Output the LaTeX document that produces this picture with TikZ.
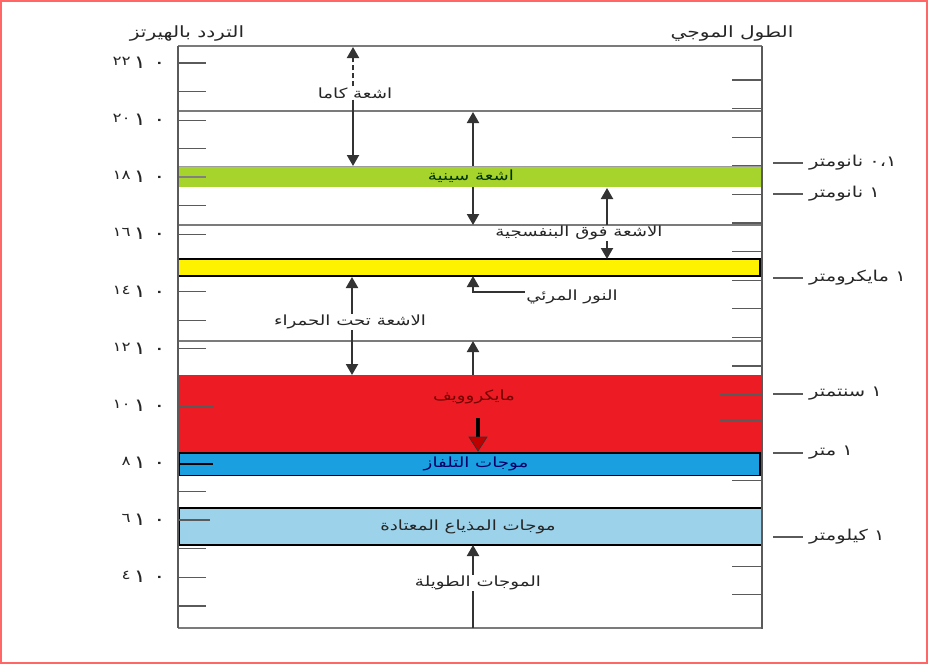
\documentclass[tikz,border=0pt]{standalone}
\usepackage{fontspec}
\newfontfamily\arabicfont[Script=Arabic,FakeStretch=1.3]{DejaVu Sans}
\TeXXeTstate=1
\usetikzlibrary{arrows.meta}
\definecolor{xgreen}{HTML}{A6D42C}
\definecolor{vyellow}{HTML}{FFF200}
\definecolor{mred}{HTML}{ED1C24}
\definecolor{tvblue}{HTML}{1AA0E0}
\definecolor{rlblue}{HTML}{9DD3EA}
\definecolor{linegray}{HTML}{5A5A5A}
\definecolor{arrgray}{HTML}{333333}
\tikzset{
  axisline/.style={draw=linegray, line width=2pt},
  hline/.style={draw=linegray!80, line width=1.1pt},
  tickline/.style={draw=linegray, line width=1.1pt},
  bandbox/.style={draw=black, line width=1.3pt},
  arr/.style={-{Triangle[length=11pt,width=12pt]}, line width=2pt, draw=arrgray, color=arrgray},
  lbl/.style={font=\arabicfont\fontsize{14}{16}\selectfont, inner sep=1pt, text=black!85},
  hdr/.style={font=\arabicfont\fontsize{15.5}{17}\selectfont, inner sep=1pt, text=black!85},
  wllbl/.style={font=\arabicfont\fontsize{15}{17}\selectfont, inner sep=1pt, text=black!85, anchor=west},
  numlbl/.style={font=\arabicfont\fontsize{18}{19}\selectfont, inner sep=0pt, anchor=east, text=black!85},
  wlline/.style={draw=linegray, line width=1.1pt},
}
\newcommand{\ar}[1]{\beginR #1\endR}
\newcommand{\expo}[1]{\raisebox{0.3ex}{\fontsize{13}{13}\selectfont #1}\hspace{3pt}١\hspace{7pt}٠}
\begin{document}
\begin{tikzpicture}[x=1pt,y=-1pt]
\useasboundingbox (0,0) rectangle (928,664);
\fill[white] (0,0) rectangle (928,664);
\draw[red!60, line width=1.2pt] (1,1) rectangle (927,663);

% ticks left
\foreach \k in {0,...,19} {
  \draw[tickline] (178,{63+28.58*\k}) -- (206,{63+28.58*\k});
}
% ticks right
\foreach \k in {0,...,18} {
  \draw[tickline] (732,{80+28.6*\k}) -- (762,{80+28.6*\k});
}
% horizontal lines
\foreach \yy in {46,111,225,341,628} {
  \draw[hline] (178,\yy) -- (762,\yy);
}
% bands
\fill[xgreen] (178,166) rectangle (762,187);
\draw[linegray!60, line width=0.6pt] (178,166) -- (762,166);
\filldraw[fill=vyellow, bandbox] (178,259) rectangle (760,276);
\fill[mred] (178,375) rectangle (762,452);
\filldraw[fill=tvblue, bandbox] (179,453) rectangle (760,475.5);
\filldraw[fill=rlblue, bandbox] (179,508) rectangle (762,545);

% ticks drawn over bands
\draw[draw=gray, line width=1.8pt] (178,177) -- (206,177);
\draw[draw=linegray, line width=2pt] (178,407) -- (214,407);
\draw[draw=black, line width=2.6pt] (180,464) -- (213,464);
\draw[draw=linegray, line width=2pt] (178,520) -- (210,520);
\draw[draw=linegray, line width=2pt] (720,395) -- (762,395);
\draw[draw=linegray, line width=2pt] (720,420) -- (762,420);

% axes
\draw[axisline] (178,46) -- (178,628);
\draw[axisline] (762,46) -- (762,629);

% headers
\node[hdr] (hfreq) at (187,34) {\ar{التردد بالهيرتز}};
\node[hdr] (hwave) at (732,34) {\ar{الطول الموجي}};

% frequency labels
\foreach \yy/\ex in {63/٢٢,120/٢٠,177/١٨,234/١٦,292/١٤,349/١٢,406/١٠,463/٨,520/٦,577/٤} {
  \node[numlbl] at (166,\yy) {\expo{\ex}};
}

% wavelength labels
\foreach \yy/\tx in {163/{\beginL ٠،١\endL{} نانومتر},194/{١ نانومتر},278/{١ مايكرومتر},394/{١ سنتمتر},453/{١ متر},537/{١ كيلومتر}} {
  \draw[wlline] (773,\yy) -- (803,\yy);
  \node[wllbl] at (808,\yy) {\ar{\tx}};
}

% gamma rays
\coordinate (gamtop) at (353,47);
\coordinate (gambot) at (353,166);
\node[lbl] (gam) at (355,93) {\ar{اشعة كاما}};
\draw[arr, dash pattern=on 5pt off 3pt] (gam.north -| gamtop) -- (gamtop);
\draw[arr] (gam.south -| gambot) -- (gambot);

% x-rays
\node[lbl, text=black!80!green] (xr) at (471,176) {\ar{اشعة سينية}};
\coordinate (xrtop) at (473,112);
\coordinate (xrband) at (473,166);
\coordinate (xrband2) at (473,187);
\coordinate (xrbot) at (473,225);
\draw[arr] (xrband) -- (xrtop);
\draw[arr] (xrband2) -- (xrbot);

% ultraviolet
\node[lbl] (uv) at (579,233) {\ar{الاشعة فوق البنفسجية}};
\coordinate (uvtop) at (607,188);
\coordinate (uvbot) at (607,259);
\draw[arr] (uv.north -| uvtop) -- (uvtop);
\draw[arr] (uv.south -| uvbot) -- (uvbot);

% visible
\node[lbl] (vis) at (572,297) {\ar{النور المرئي}};
\coordinate (viscorner) at (473,292);
\coordinate (vistop) at (473,276);
\draw[arr] (vis.west |- viscorner) -- (viscorner) -- (vistop);

% infrared
\node[lbl] (ir) at (350,322) {\ar{الاشعة تحت الحمراء}};
\coordinate (irtop) at (352,277);
\coordinate (irbot) at (352,375);
\draw[arr] (ir.north -| irtop) -- (irtop);
\draw[arr] (ir.south -| irbot) -- (irbot);

% microwave
\coordinate (mwtop) at (473,341);
\coordinate (mwband) at (473,375);
\draw[arr] (mwband) -- (mwtop);
\node[lbl, text=red!45!black] (mw) at (474,397) {\ar{مايكروويف}};
\coordinate (mwa) at (478,418);
\coordinate (mwb) at (478,438);
\coordinate (mwtip) at (478,451);
\draw[black, line width=3.5pt] (mwa) -- (mwb);
\filldraw[fill=red!75!black, draw=black!80, line width=0.7pt] (mwtip) -- ++(-9,-14) -- ++(18,0) -- cycle;

% TV
\node[lbl, text=blue!40!black] (tv) at (476,464) {\ar{موجات التلفاز}};

% radio
\node[lbl] (rad) at (468,527) {\ar{موجات المذياع المعتادة}};

% long waves
\node[lbl] (lw) at (478,583) {\ar{الموجات الطويلة}};
\coordinate (lwtop) at (473,545);
\coordinate (lwbot) at (473,628);
\draw[arr] (lw.north -| lwtop) -- (lwtop);
\draw[line width=2pt, draw=arrgray] (lw.south -| lwbot) -- (lwbot);
\end{tikzpicture}
\end{document}
